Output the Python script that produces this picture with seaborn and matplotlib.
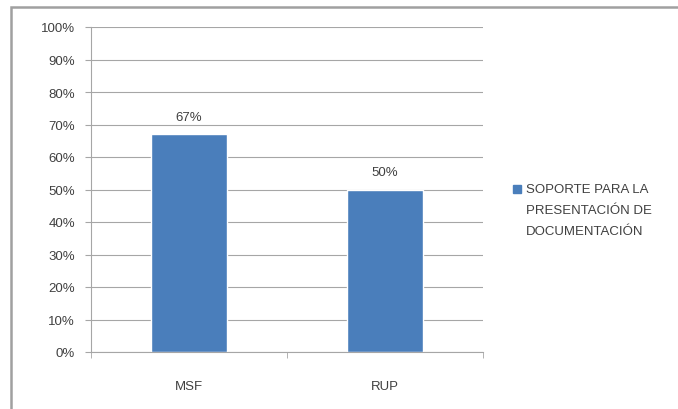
import matplotlib
matplotlib.use("Agg")
import matplotlib.pyplot as plt
import seaborn as sns
import pandas as pd
from matplotlib.patches import Rectangle
from matplotlib.ticker import FixedLocator

categories = ["MSF", "RUP"]
values = [67, 50]
series_name = "SOPORTE PARA LA\nPRESENTACIÓN DE\nDOCUMENTACIÓN"
y_ticks = [0, 10, 20, 30, 40, 50, 60, 70, 80, 90, 100]

df = pd.DataFrame({"cat": categories, "val": values})

sns.set_style("white")
plt.rcParams["font.family"] = ["Liberation Sans", "DejaVu Sans"]
text_col = "#404040"
bar_col = "#4a7ebb"
line_col = "#a6a6a6"
fs = 9.5

fig = plt.figure(figsize=(6.78, 4.10), dpi=100)
ax = fig.add_axes([91 / 678, 1 - 353 / 410, (483 - 91) / 678, (353 - 28) / 410])

sns.barplot(data=df, x="cat", y="val", color=bar_col, width=0.39, saturation=1, ax=ax)

# data labels
for i, v in enumerate(values):
    ax.text(i, v + 5.3, f"{v}%", ha="center", va="center", fontsize=fs, color=text_col)

ax.set_xlim(-0.5, 1.5)
ax.set_ylim(0, 100)
ax.set_yticks(y_ticks)
ax.set_yticklabels([f"{t}%" for t in y_ticks], fontsize=fs, color=text_col)
ax.set_xticks(range(len(categories)))
ax.set_xticklabels(categories, fontsize=fs, color=text_col)
ax.set_xlabel("")
ax.set_ylabel("")
ax.yaxis.grid(True, color=line_col, linewidth=0.8)
ax.set_axisbelow(True)

for s in ["top", "right"]:
    ax.spines[s].set_visible(False)
ax.spines["left"].set_color(line_col)
ax.spines["bottom"].set_color(line_col)

ax.tick_params(axis="y", length=4.5, color=line_col, pad=7, left=True)
ax.tick_params(axis="x", which="major", length=0, pad=20)
ax.xaxis.set_minor_locator(FixedLocator([-0.5, 0.5, 1.5]))
ax.tick_params(axis="x", which="minor", length=4.5, color=line_col, bottom=True)

# legend
fig.patches.append(Rectangle((513 / 678, 1 - 194 / 410), 8 / 678, 8 / 410,
                             transform=fig.transFigure, color=bar_col))
fig.text(526 / 678, 1 - 184 / 410, series_name, fontsize=fs, color=text_col,
         va="top", ha="left", linespacing=2.0)

# outer frame
fig.patches.append(Rectangle((11 / 678, -0.05), 1.0, 1 - 8 / 410 + 0.05,
                             transform=fig.transFigure, fill=False,
                             edgecolor="#a0a0a0", linewidth=1.8))

fig.savefig("out.png", dpi=100)
